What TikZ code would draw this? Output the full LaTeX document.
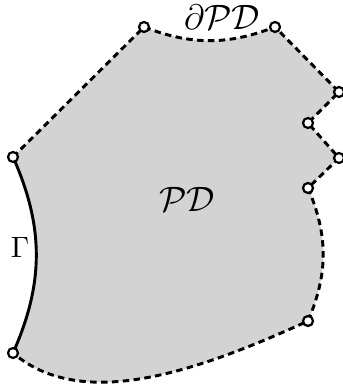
\documentclass[tikz,border=0pt]{standalone}
\usetikzlibrary{positioning}
\definecolor{domaingray}{HTML}{D3D3D3}

\begin{document}
\begin{tikzpicture}[x=0.34pt, y=0.34pt,
    vertex/.style={circle, draw, fill=white, line width=0.75pt, inner sep=0pt, minimum size=3.4pt},
    bdry/.style={dash pattern=on 2.2pt off 1.5pt, line width=1pt}]
  \useasboundingbox (0,0) rectangle (343,390);
  % corners of the domain
  \coordinate (a) at (13,233);
  \coordinate (b) at (144,363);
  \coordinate (c) at (275,363);
  \coordinate (d) at (339,298);
  \coordinate (e) at (308,267);
  \coordinate (f) at (339,232);
  \coordinate (g) at (308,202);
  \coordinate (h) at (308,69);
  \coordinate (i) at (13,37);
  \fill[domaingray] (a) -- (b) to[bend right=21] (c) -- (d) -- (e) -- (f) -- (g)
    to[bend left=23] (h) .. controls (190,15) and (80,-20) .. (i)
    to[bend right=24] (a) -- cycle;
  \draw[bdry] (a) -- (b) to[bend right=21] (c) -- (d) -- (e) -- (f) -- (g)
    to[bend left=23] (h) .. controls (190,15) and (80,-20) .. (i);
  \draw[line width=1pt] (i) to[bend right=24] (a);
  \foreach \v in {a,...,i}
    \node[vertex] (n\v) at (\v) {};
  \node (domlabel) at (187,191) {\large$\mathcal{PD}$};
  \node[inner sep=0pt] (bdlabel) at (222,373) {\large$\partial\mathcal{PD}$};
  \node (gammalabel) at (20,143) {$\Gamma$};
\end{tikzpicture}
\end{document}
